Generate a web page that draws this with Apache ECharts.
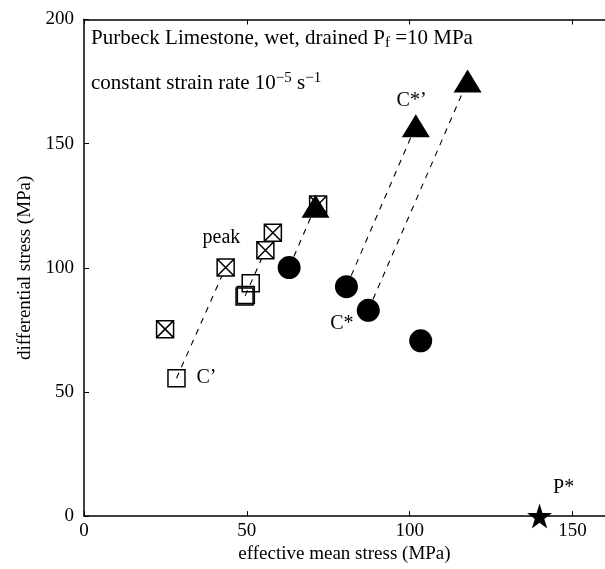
<!DOCTYPE html>
<html>
<head>
<meta charset="utf-8">
<script src="https://cdn.jsdelivr.net/npm/echarts@6/dist/echarts.min.js"></script>
<style>
html,body{margin:0;padding:0;background:#fff;}
#chart{width:605px;height:569px;}
</style>
</head>
<body>
<div id="chart"></div>
<script>
// ---- data (effective mean stress, differential stress), MPa ----
var crossedSquares = [[58.0,114.1],[55.7,107.1],[43.5,100.1],[24.9,75.3],[71.9,125.5]];
var openSquares = [[28.4,55.5],[51.2,93.8],[49.3,88.4],[49.7,89.0]];
var circles = [[63.0,100.1],[80.6,92.4],[87.3,82.9],[103.4,70.6]];
var triangles = [[71.1,124.8],[101.9,157.2],[117.8,175.2]];
var stars = [[139.9,0]];
var dashedPaths = [
  [[28.4,55.5],[43.5,100.1]],
  [[49.5,88.7],[55.7,107.1]],
  [[63.0,100.1],[71.1,124.8]],
  [[80.6,92.4],[101.9,157.2]],
  [[87.3,82.9],[117.8,175.2]]
];
var annotations = [
  {name:'peak', value:[42.2,112.2]},
  {name:"C’", value:[37.6,55.6]},
  {name:"C*’", value:[100.6,167.3]},
  {name:'C*', value:[79.2,77.3]},
  {name:'P*', value:[147.3,11.5]}
];
var xTicks = ['0','50','100','150'];
var yTicks = ['0','50','100','150','200'];

var FONT = 'Liberation Serif';
var chart = echarts.init(document.getElementById('chart'), null, {renderer:'canvas'});

var series = [];
dashedPaths.forEach(function(p){
  series.push({type:'line', data:p, symbol:'none', silent:true, z:1,
    lineStyle:{color:'#000', width:1.1, type:[6,6], opacity:1}});
});
series.push({type:'scatter', data:openSquares, symbol:'rect', symbolSize:17, z:3,
  itemStyle:{color:'rgba(255,255,255,0)', borderColor:'#000', borderWidth:1.5, opacity:1}});
series.push({type:'scatter', data:crossedSquares, z:3,
  symbol:'path://M0,0L10,0L10,10L0,10Z M0,0L10,10 M10,0L0,10', symbolSize:17,
  itemStyle:{color:'#fff', borderColor:'#000', borderWidth:1.5, opacity:1}});
series.push({type:'scatter', data:circles, symbol:'circle', symbolSize:23, z:4,
  itemStyle:{color:'#000', opacity:1}});
series.push({type:'scatter', data:triangles, symbol:'triangle', symbolSize:[28,23], z:5,
  itemStyle:{color:'#000', opacity:1}});
series.push({type:'scatter', data:stars, symbol:'path://M50,0L61.8,36.2L100,36.2L69.1,58.8L80.9,95.1L50,72.7L19.1,95.1L30.9,58.8L0,36.2L38.2,36.2Z',
  symbolSize:25, z:5, itemStyle:{color:'#000', opacity:1}});
series.push({type:'scatter', data:annotations, symbolSize:0, z:6, silent:true,
  itemStyle:{opacity:1},
  label:{show:true, position:'inside', formatter:'{b}', color:'#000', fontFamily:FONT, fontSize:20}});

var option = {
  animation:false,
  backgroundColor:'#fff',
  grid:{left:84, right:-10.5, top:19.5, bottom:51.5},
  xAxis:[{
    type:'value', min:0, max:160, interval:50, position:'bottom',
    name:'effective mean stress (MPa)', nameLocation:'middle', nameGap:23,
    nameTextStyle:{fontFamily:FONT, fontSize:19, color:'#000'},
    axisLine:{show:true, lineStyle:{color:'#000', width:1.5}},
    axisTick:{show:true, inside:true, length:5, lineStyle:{color:'#000'}},
    axisLabel:{color:'#000', fontFamily:FONT, fontSize:19, margin:5, showMaxLabel:false,
      formatter:function(v){ var i = xTicks.indexOf(String(v)); return i>=0 ? xTicks[i] : ''; }},
    splitLine:{show:false}
  },{
    type:'value', min:0, max:160, interval:50, position:'top',
    axisLine:{show:true, lineStyle:{color:'#000', width:1.5}},
    axisTick:{show:true, inside:true, length:5, lineStyle:{color:'#000'}},
    axisLabel:{show:false}, splitLine:{show:false}
  }],
  yAxis:{
    type:'value', min:0, max:200, interval:50,
    name:'differential stress (MPa)', nameLocation:'middle', nameGap:44,
    nameTextStyle:{fontFamily:FONT, fontSize:19, color:'#000'},
    axisLine:{show:true, lineStyle:{color:'#000', width:1.5}},
    axisTick:{show:true, inside:true, length:5, lineStyle:{color:'#000'}},
    axisLabel:{color:'#000', fontFamily:FONT, fontSize:19, margin:10,
      formatter:function(v){ var i = yTicks.indexOf(String(v)); return i>=0 ? yTicks[i] : ''; }},
    splitLine:{show:false}
  },
  graphic:[
    {type:'text', left:91, top:28, z:10, style:{
      text:'Purbeck Limestone, wet, drained P{sub|f} =10 MPa',
      font:'21px "Liberation Serif"', fill:'#000',
      rich:{sub:{fontSize:15, fontFamily:FONT, padding:[10,0,0,0]}}
    }},
    {type:'text', left:91, top:71, z:10, style:{
      text:'constant strain rate 10{sup|\u22125} s{sup|\u22121}',
      font:'21px "Liberation Serif"', fill:'#000',
      rich:{sup:{fontSize:15, fontFamily:FONT, padding:[0,0,10,0]}}
    }}
  ],
  series:series
};
chart.setOption(option);
</script>
</body>
</html>
